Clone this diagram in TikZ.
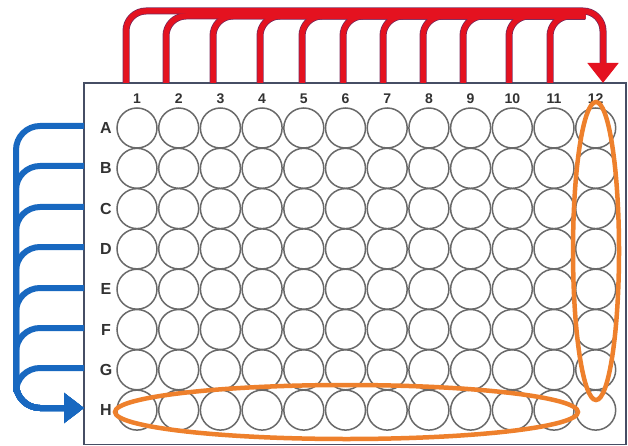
\documentclass[tikz,border=0pt]{standalone}
\usepackage{fontspec}
\setmainfont{Liberation Sans}
\usepackage{xcolor}
\usetikzlibrary{arrows.meta}
\definecolor{plateedge}{RGB}{70,78,100}
\definecolor{wellgray}{RGB}{105,105,105}
\definecolor{labelgray}{RGB}{50,50,50}
\definecolor{passred}{RGB}{228,18,32}
\definecolor{passedge}{RGB}{120,40,90}
\definecolor{passblue}{RGB}{24,104,192}
\definecolor{markorange}{RGB}{238,128,44}

\begin{document}
\begin{tikzpicture}[x=1pt, y=-1pt,
      well/.style={draw=wellgray, line width=1.5pt, circle, minimum size=40pt, inner sep=0pt},
      collbl/.style={font=\bfseries\fontsize{14}{14}\selectfont, text=labelgray},
      rowlbl/.style={font=\bfseries\fontsize{16}{16}\selectfont, text=labelgray},
      redarr/.style={passred, line width=5.5pt, rounded corners=20pt},
      redtip/.style={-{Triangle[width=30pt, length=20pt]}},
      bluearr/.style={passblue, line width=6pt, rounded corners=24pt, -{Triangle[width=29pt, length=20pt]}},
      ring/.style={markorange, line width=4.5pt}]
    \useasboundingbox (0,0) rectangle (628,446);
    \draw[plateedge, line width=1.5pt, fill=white] (84,83) rectangle (626,444.5);
    % wells and labels
    \foreach \r/\l in {1/A,2/B,3/C,4/D,5/E,6/F,7/G,8/H} {
      \node[rowlbl] (row\l) at (106, 128+40.3*\r-40.3) {\l};
      \foreach \c in {1,...,12} {
        \node[well] (w\l\c) at (137+41.7*\c-41.7, 128+40.3*\r-40.3) {};
      }
    }
    \foreach \c in {1,...,12} {
      \node[collbl] (col\c) at (137+41.7*\c-41.7, 99) {\c};
    }
    % column passes (red)
    \foreach \n/\x in {1/126,2/166,3/213,4/260,5/302,6/343,7/383,8/423,9/463,10/509,11/550} {
      \coordinate (t\n) at (\x,83);
    }
    \coordinate (t12) at (603,83);
    \coordinate (rturn) at (603,11);
    \coordinate (rjoin) at (585,16);
    \foreach \n in {2,...,11} {
      \draw[redarr, passedge, line width=7pt] (t\n) |- (rjoin);
    }
    \draw[redarr, passedge, line width=7pt, shorten >=12pt] (t1) |- (rturn) -- (t12);
    \foreach \n in {2,...,11} {
      \draw[redarr] (t\n) |- (rjoin);
    }
    \draw[redarr, redtip] (t1) |- (rturn) -- (t12);
    % row passes (blue)
    \foreach \l/\y in {A/126,B/166,C/207,D/247,E/288,F/328,G/368,H/408} {
      \coordinate (l\l) at (84,\y);
    }
    \coordinate (bturn) at (16,408);
    \foreach \l in {G,F,E,D,C,B,A} {
      \draw[bluearr] (l\l) -| (bturn) -- (lH);
    }
    % marked column and row
    \draw[ring] (596,251) ellipse [x radius=23, y radius=149];
    \draw[ring] (346.5,412) ellipse [x radius=231.5, y radius=27];
  \end{tikzpicture}
\end{document}
